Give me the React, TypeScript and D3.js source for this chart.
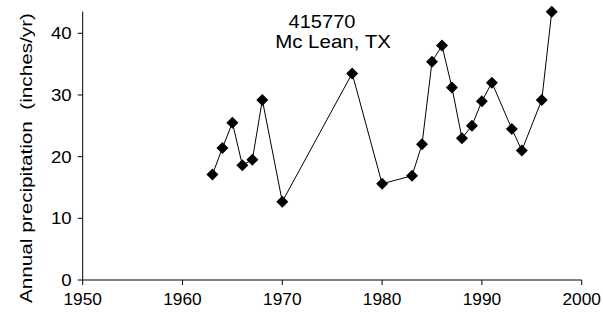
import React from "react";
import * as d3 from "d3";

const years = [1963, 1964, 1965, 1966, 1967, 1968, 1970, 1977, 1980, 1983, 1984, 1985, 1986, 1987, 1988, 1989, 1990, 1991, 1993, 1994, 1996, 1997];
const precip = [17.1, 21.4, 25.5, 18.6, 19.5, 29.2, 12.7, 33.5, 15.6, 16.9, 22.0, 35.4, 38.0, 31.2, 23.0, 25.0, 29.0, 32.0, 24.5, 21.0, 29.2, 43.5];
const xTicks = [1950, 1960, 1970, 1980, 1990, 2000];
const yTicks = [0, 10, 20, 30, 40];
const titleLines = ["415770", "Mc Lean, TX"];

const W = 603;
const H = 314;
const font = "'Liberation Sans', Arial, sans-serif";

export default function App() {
  const x = d3.scaleLinear().domain([1950, 2000]).range([82.7, 581.7]);
  const y = d3.scaleLinear().domain([0, 43.5]).range([280, 11.7]);

  const pts = years.map((yr, i) => [x(yr), y(precip[i])] as [number, number]);
  const line = d3.line()(pts);
  const h = 6;
  const diamond = `M0,${-h}L${h},0L0,${h}L${-h},0Z`;

  // title: centre x, baseline y, stretched width
  const titlePos = [
    { cx: 322, by: 28, len: 67 },
    { cx: 333, by: 48.3, len: 115.7 },
  ];

  return (
    <svg width={W} height={H} style={{ position: "absolute", left: 0, top: 0, background: "#fff" }}>
      {/* axes */}
      <line x1={x(1950)} x2={x(2000)} y1={y(0)} y2={y(0)} stroke="#000" strokeWidth={1} />
      <line x1={x(1950)} x2={x(1950)} y1={y(0)} y2={y(43.5)} stroke="#000" strokeWidth={1} />
      {xTicks.map(t => (
        <g key={t}>
          <line x1={x(t)} x2={x(t)} y1={y(0)} y2={y(0) + 5} stroke="#000" />
          <text x={x(t) - 19.25} y={y(0) + 25} fontFamily={font} fontSize={17} fill="#000"
            textLength={38.5} lengthAdjust="spacingAndGlyphs">{t}</text>
        </g>
      ))}
      {yTicks.map(t => (
        <g key={t}>
          <line x1={x(1950) - 5} x2={x(1950)} y1={y(t)} y2={y(t)} stroke="#000" />
          <text x={x(1950) - 11} y={y(t) + 6} textAnchor="end" fontFamily={font} fontSize={17} fill="#000"
            textLength={String(t).length * 10.35} lengthAdjust="spacingAndGlyphs">{t}</text>
        </g>
      ))}
      <text transform="translate(32,158) rotate(-90)" textAnchor="middle" fontFamily={font} fontSize={17} fill="#000"
        textLength={290} lengthAdjust="spacingAndGlyphs" style={{ whiteSpace: "pre" }}>
        {"Annual precipitation  (inches/yr)"}
      </text>
      {/* title */}
      {titleLines.map((s, i) => (
        <text key={s} x={titlePos[i].cx - titlePos[i].len / 2} y={titlePos[i].by} fontFamily={font} fontSize={18} fill="#000"
          textLength={titlePos[i].len} lengthAdjust="spacingAndGlyphs">{s}</text>
      ))}
      {/* series */}
      <path d={line || ""} fill="none" stroke="#000" strokeWidth={1} />
      {pts.map((p, i) => (
        <path key={i} d={diamond} transform={`translate(${p[0]},${p[1]})`} fill="#000" />
      ))}
    </svg>
  );
}
